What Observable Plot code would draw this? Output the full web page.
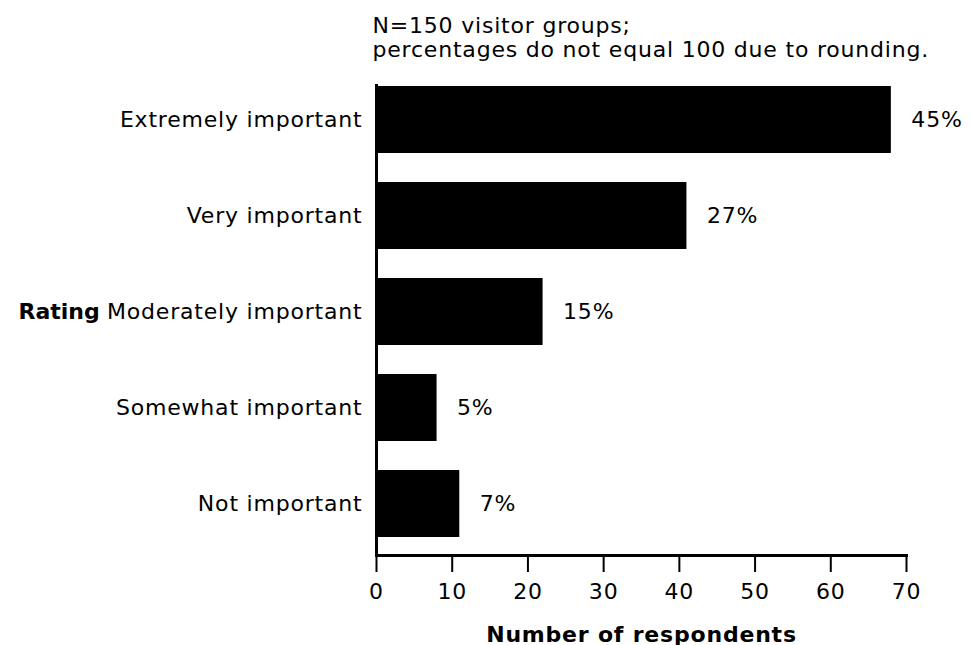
<!DOCTYPE html>
<html><head><meta charset="utf-8">
<script src="https://cdn.jsdelivr.net/npm/d3@7"></script>
<script src="https://cdn.jsdelivr.net/npm/@observablehq/plot@0.6"></script>
<style>body{margin:0;background:#fff} svg{font-family:"DejaVu Sans"}</style>
</head><body><div id="chart"></div>
<script>
const ratings = ["Extremely important","Very important","Moderately important","Somewhat important","Not important"];
const respondents = [68, 41, 22, 8, 11];
const percents = ["45%", "27%", "15%", "5%", "7%"];
const xTicks = [0, 10, 20, 30, 40, 50, 60, 70];
const noteText = "N=150 visitor groups;\npercentages do not equal 100 due to rounding.";
const yTitle = "Rating";
const xTitle = "Number of respondents";

const data = ratings.map((r, i) => ({rating: r, n: respondents[i], pct: percents[i]}));

const chart = Plot.plot({
  width: 971, height: 645,
  marginLeft: 376, marginRight: 65, marginTop: 85, marginBottom: 90,
  style: {fontFamily: "DejaVu Sans", fontSize: "22px", color: "#000", background: "#fff", letterSpacing: "0.8px", overflow: "visible"},
  x: {domain: [0, 70]},
  y: {domain: ratings, paddingInner: 0.297, paddingOuter: 0.0775, align: 0.067},
  marks: [
    Plot.barX(data, {x: "n", y: "rating", fill: "#000"}),
    Plot.text(data, {x: "n", y: "rating", text: "pct", textAnchor: "start", dx: 20, fontSize: 22, fill: "#000"}),
    Plot.frame({anchor: "left", stroke: "#000", strokeWidth: 3}),
    Plot.frame({anchor: "bottom", stroke: "#000", strokeWidth: 3}),
    Plot.axisX({ticks: xTicks, tickSize: 17, tickPadding: 11, fontSize: 22, strokeWidth: 2, label: null}),
    Plot.axisY({tickSize: 0, tickPadding: 14, fontSize: 22, label: null}),
    Plot.text([yTitle], {text: d => d, y: [ratings[2]], frameAnchor: "left", dx: -358, textAnchor: "start", fontWeight: "bold", fontSize: 22, style: {letterSpacing: "0px"}}),
    Plot.text([xTitle], {text: d => d, frameAnchor: "bottom", dy: 79, lineAnchor: "middle", fontWeight: "bold", fontSize: 22}),
    Plot.text([noteText], {text: d => d, frameAnchor: "top-left", dx: -4, dy: -70, lineAnchor: "top", textAnchor: "start", lineHeight: 1.1, fontSize: 22})
  ]
});
chart.querySelectorAll("text").forEach(t => { if (t.textContent === yTitle) t.setAttribute("letter-spacing", "0"); });
document.getElementById("chart").appendChild(chart);
</script>
</body></html>
